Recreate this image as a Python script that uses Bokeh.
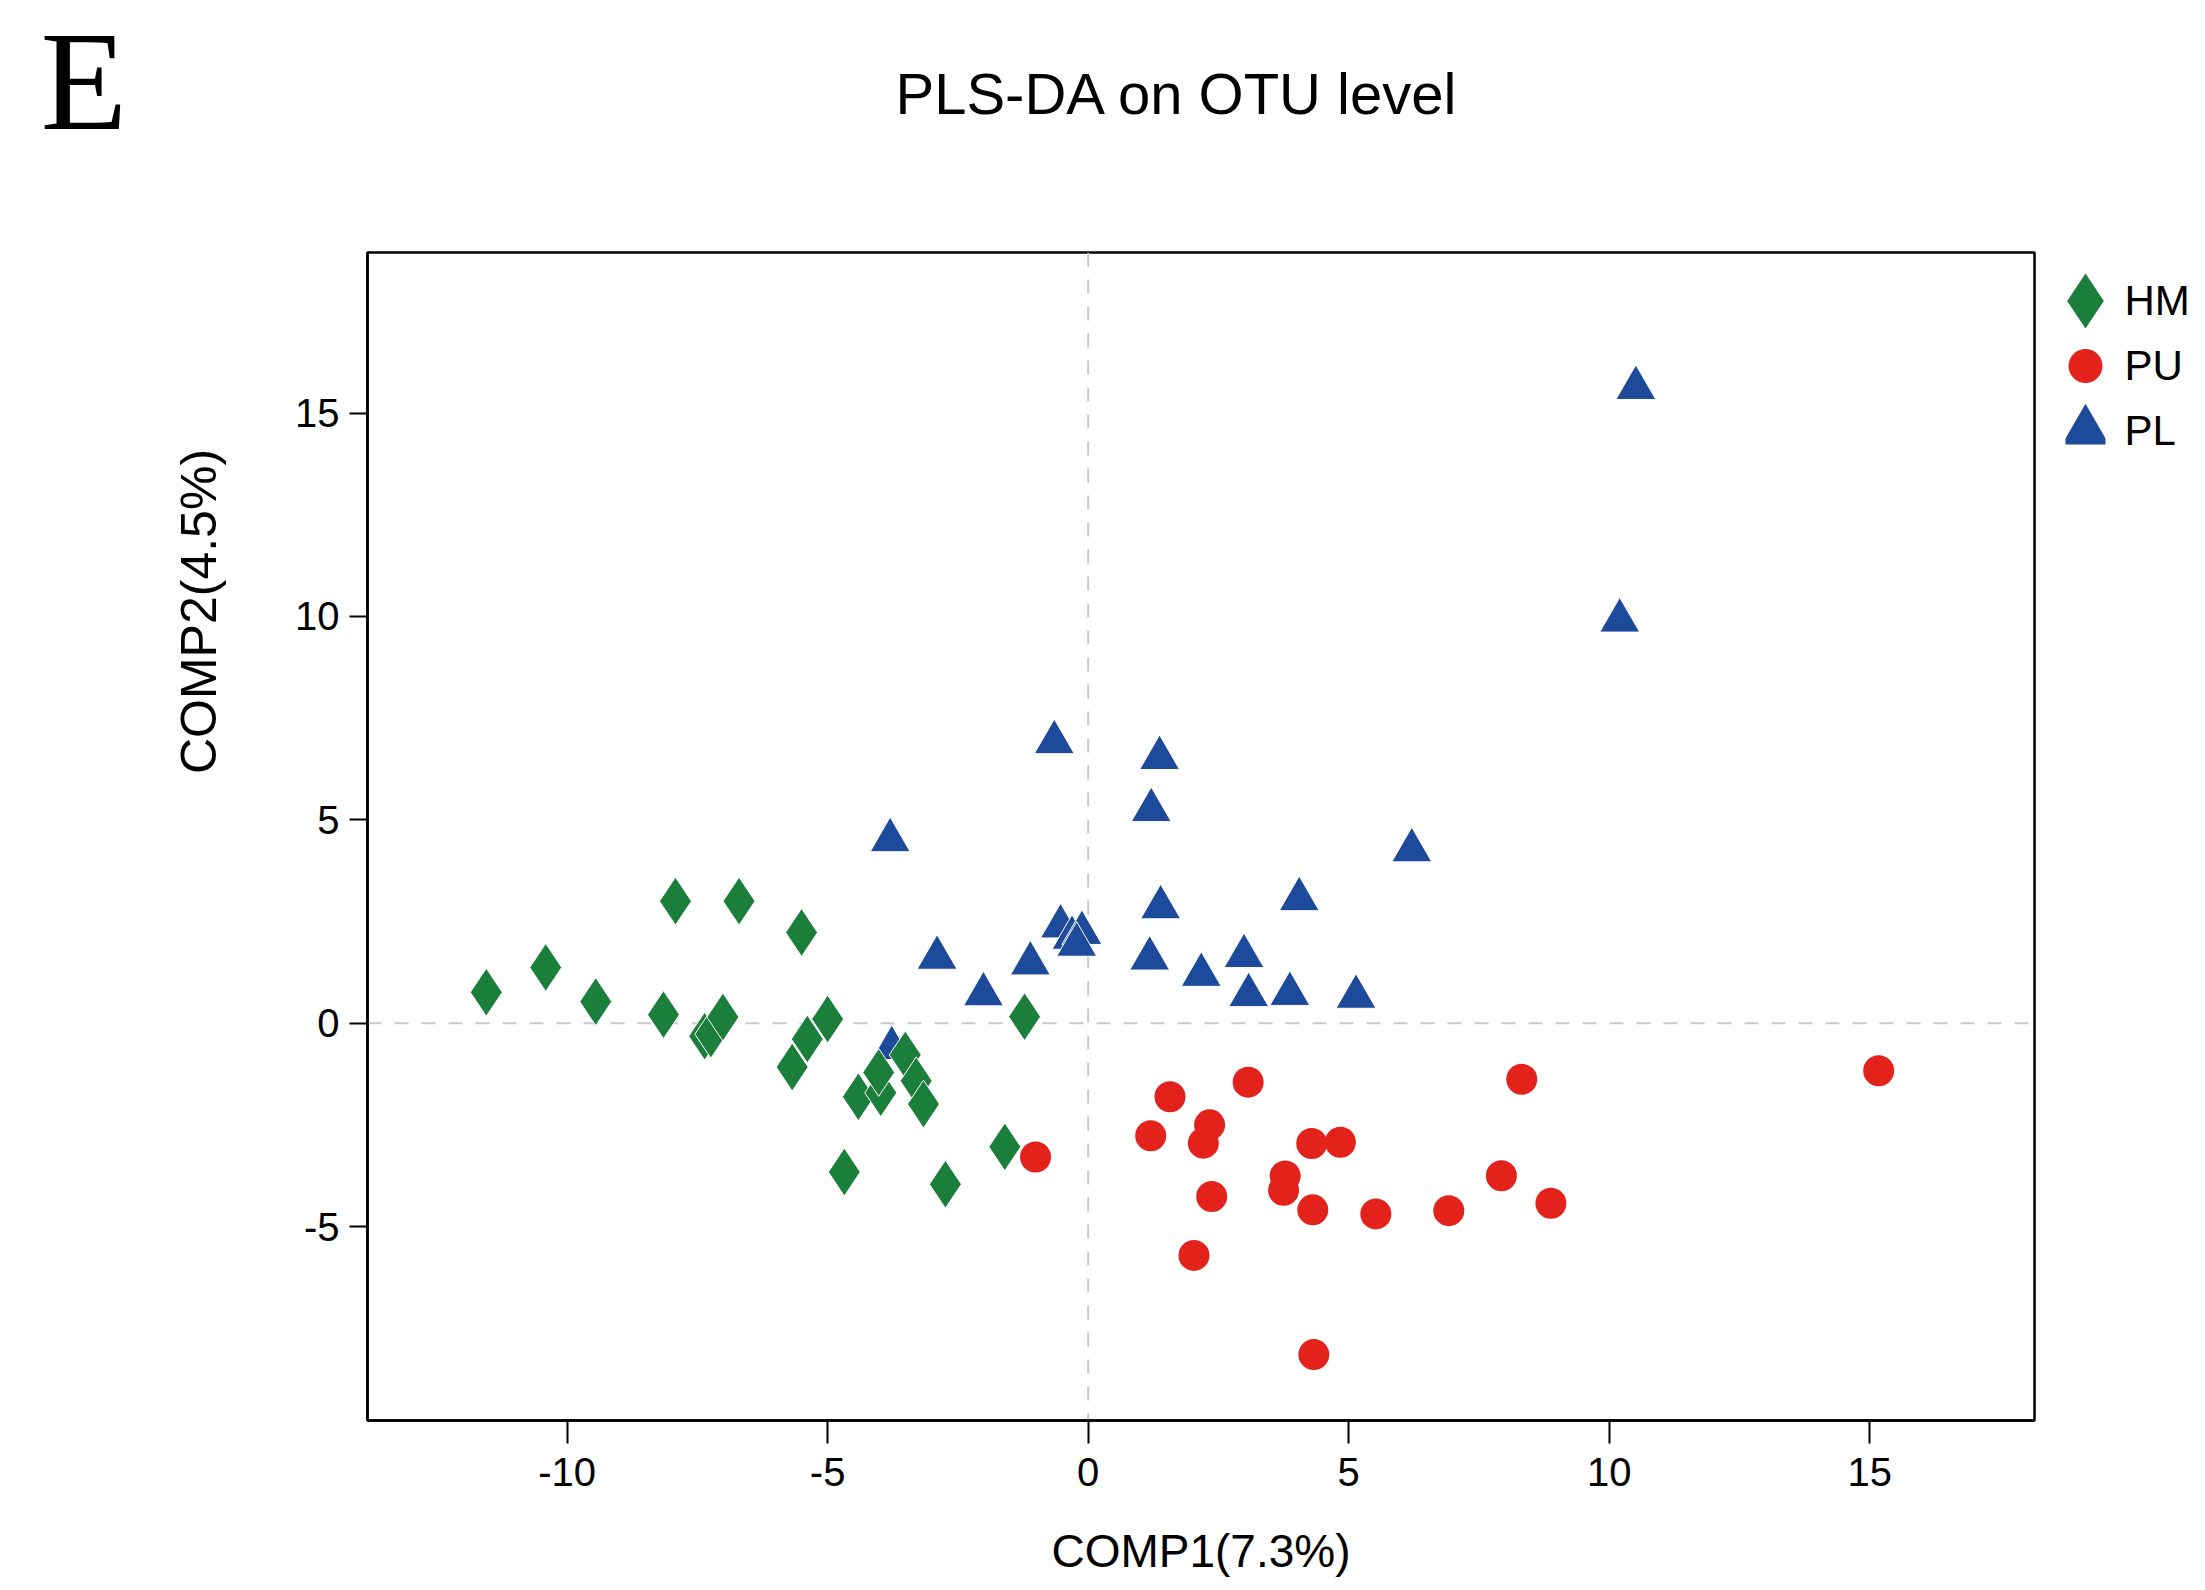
import math
from bokeh.plotting import figure
from bokeh.layouts import column, row
from bokeh.models import Range1d, Span, FixedTicker, PrintfTickFormatter
from bokeh.core.properties import value
from bokeh.embed import file_html
from bokeh.resources import INLINE

# ---- data ----
hm_x = [-11.55, -10.41, -9.45, -7.92, -6.70, -5.50, -8.15, -7.36, -7.24, -7.01, -5.00, -5.39,
        -5.68, -4.41, -3.98, -4.02, -3.51, -3.30, -3.16, -4.68, -2.74, -1.60, -1.22]
hm_y = [0.76, 1.37, 0.53, 3.00, 3.00, 2.23, 0.21, -0.32, -0.27, 0.15, 0.10, -0.39,
        -1.08, -1.81, -1.71, -1.21, -0.78, -1.42, -1.99, -3.66, -3.96, -3.04, 0.16]

pu_x = [-1.01, 1.20, 1.57, 2.33, 2.21, 3.07, 2.37, 2.03, 4.29, 4.84, 3.78, 3.75, 4.31, 5.52,
        6.92, 7.93, 8.88, 8.32, 15.17, 4.33]
pu_y = [-3.29, -2.77, -1.81, -2.50, -2.95, -1.45, -4.26, -5.71, -2.96, -2.93, -3.76, -4.11, -4.59, -4.69,
        -4.61, -3.75, -4.43, -1.38, -1.17, -8.15]

pl_x = [-3.77, -3.80, -2.90, -2.01, -1.11, -0.65, 1.37, 1.21, 6.21, 1.39, 4.05, -0.53, -0.31,
        -0.12, -0.22, 1.18, 2.17, 2.99, 3.08, 3.87, 5.14, 10.51, 10.20]
pl_y = [-0.61, 4.50, 1.61, 0.71, 1.47, 6.91, 6.52, 5.24, 4.25, 2.85, 3.05, 2.38, 2.10,
        2.22, 1.93, 1.59, 1.19, 1.65, 0.69, 0.72, 0.65, 15.62, 9.90]

groups = ["HM", "PU", "PL"]
x_ticks = [-10, -5, 0, 5, 10, 15]
y_ticks = [-5, 0, 5, 10, 15]
title_text = "PLS-DA on OTU level"
panel_letter = "E"
x_label = "COMP1(7.3%)"
y_label = "COMP2(4.5%)"

# ---- styles / layout ----
GREEN = "#1b7e3b"
RED = "#e4221c"
BLUE = "#1e4a9c"
SANS = "Liberation Sans"
SERIF = "Liberation Serif"

PAGE_W = 2205
HEAD_H = 250
BODY_H = 1340
YLAB_W = 250
LEG_W = 161
MAIN_W = PAGE_W - YLAB_W - LEG_W
B_TOP, B_BOT = 2, 170            # same top/bottom borders for every figure of the row
FRAME_H = BODY_H - B_TOP - B_BOT  # 1168 px
FRAME_TOP = HEAD_H + B_TOP        # page y of the frame top


def blank(fig):
    fig.outline_line_color = None
    fig.grid.visible = False
    fig.background_fill_color = "white"
    fig.border_fill_color = "white"


# header: panel letter + title (pixel-space figure)
head = figure(width=PAGE_W, height=HEAD_H, output_backend="svg", toolbar_location=None,
              x_range=Range1d(0, PAGE_W), y_range=Range1d(0, HEAD_H),
              x_axis_location=None, y_axis_location=None, min_border=0)
blank(head)
head.text(x=[40], y=[HEAD_H - 80], text=[panel_letter], text_font=value(SERIF),
          text_font_size="142px", text_align="left", text_baseline="middle", text_color="black")
head.text(x=[1177], y=[HEAD_H - 93], text=[title_text], text_font=value(SANS),
          text_font_size="58px", text_align="center", text_baseline="middle", text_color="black")

# y-axis title strip (pixel-space figure)
ylab = figure(width=YLAB_W, height=BODY_H, output_backend="svg", toolbar_location=None,
              x_range=Range1d(0, YLAB_W), y_range=Range1d(0, FRAME_H),
              x_axis_location=None, y_axis_location=None,
              min_border_left=0, min_border_right=0, min_border_top=B_TOP, min_border_bottom=B_BOT)
blank(ylab)
ylab.text(x=[198], y=[FRAME_H - (611 - FRAME_TOP)], text=[y_label], angle=math.pi / 2,
          text_font=value(SANS), text_font_size="50px", text_align="center",
          text_baseline="middle", text_color="black")

# main scatter
p = figure(width=MAIN_W, height=BODY_H, output_backend="svg", toolbar_location=None,
           x_range=Range1d(-13.83, 18.16), y_range=Range1d(-9.77, 18.95),
           min_border_left=117, min_border_right=10, min_border_top=B_TOP, min_border_bottom=B_BOT)
p.background_fill_color = "white"
p.border_fill_color = "white"
p.outline_line_color = "black"
p.outline_line_width = 2.5
p.outline_line_alpha = 1.0
p.xgrid.visible = False
p.ygrid.visible = False

for dim in ("height", "width"):
    p.add_layout(Span(location=0, dimension=dim, line_color="#c9c9c9", line_width=2,
                      line_dash="14 13", level="underlay"))

p.scatter(pl_x, pl_y, marker="triangle", size=40, fill_color=BLUE, line_color="white", line_width=1)
p.scatter(pu_x, pu_y, marker="circle", size=31, fill_color=RED, line_color=None)
p.scatter(hm_x, hm_y, marker="diamond", size=48, fill_color=GREEN, line_color="white", line_width=1)

p.xaxis.ticker = FixedTicker(ticks=x_ticks)
p.yaxis.ticker = FixedTicker(ticks=y_ticks)
for ax in (p.xaxis[0], p.yaxis[0]):
    ax.formatter = PrintfTickFormatter(format="%d")
    ax.axis_line_color = "black"
    ax.axis_line_width = 2.5
    ax.major_tick_line_color = "black"
    ax.major_tick_line_width = 2
    ax.major_tick_in = 0
    ax.minor_tick_in = 0
    ax.minor_tick_out = 0
    ax.major_label_text_font = SANS
    ax.major_label_text_font_size = "40px"
    ax.major_label_text_color = "black"
p.xaxis.major_tick_out = 23
p.yaxis.major_tick_out = 18
p.xaxis.major_label_standoff = 14
p.yaxis.major_label_standoff = 10

p.xaxis.axis_label = x_label
p.xaxis.axis_label_text_font = SANS
p.xaxis.axis_label_text_font_size = "46px"
p.xaxis.axis_label_text_font_style = "normal"
p.xaxis.axis_label_text_color = "black"
p.xaxis.axis_label_standoff = 36

# legend strip: one marker per group, group names as tick labels of a right axis
leg_pos = list(range(len(groups)))[::-1]          # HM on top
leg = figure(width=LEG_W, height=BODY_H, output_backend="svg", toolbar_location=None,
             x_range=Range1d(-1, 1), y_range=Range1d(2.746 - FRAME_H / 65.0, 2.746),
             x_axis_location=None, y_axis_location="right",
             min_border_left=21, min_border_right=100, min_border_top=B_TOP, min_border_bottom=B_BOT)
blank(leg)
leg.scatter(x=[0], y=[leg_pos[0]], marker="diamond", size=55, fill_color=GREEN, line_color=None)
leg.scatter(x=[0], y=[leg_pos[1]], marker="circle", size=34, fill_color=RED, line_color=None)
leg.scatter(x=[0], y=[leg_pos[2]], marker="triangle", size=47, fill_color=BLUE, line_color=None)
leg.yaxis.ticker = FixedTicker(ticks=leg_pos)
leg.yaxis.major_label_overrides = {pos: g for pos, g in zip(leg_pos, groups)}
leg.yaxis.axis_line_color = None
leg.yaxis.major_tick_line_color = None
leg.yaxis.minor_tick_line_color = None
leg.yaxis.major_label_standoff = 13
leg.yaxis.major_label_text_font = SANS
leg.yaxis.major_label_text_font_size = "42px"
leg.yaxis.major_label_text_color = "black"

layout = column(head, row(ylab, p, leg))
open("out.html", "w").write(file_html(layout, INLINE))
